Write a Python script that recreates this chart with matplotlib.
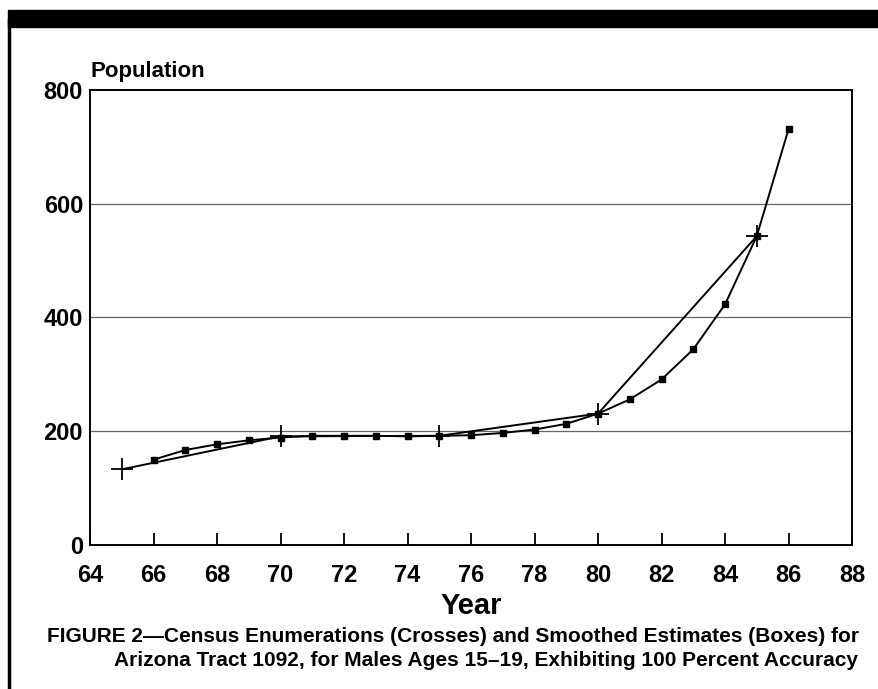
import matplotlib
matplotlib.use("Agg")
import matplotlib.pyplot as plt
from matplotlib.patches import Rectangle
from matplotlib.lines import Line2D

# Census enumerations (crosses)
census_years = [65, 70, 75, 80, 85]
census_pop = [133, 191, 192, 231, 543]

# Smoothed estimates (boxes)
est_years = [66, 67, 68, 69, 70, 71, 72, 73, 74, 75, 76, 77, 78, 79, 80,
             81, 82, 83, 84, 85, 86]
est_pop = [150, 167, 177, 184, 189, 192, 192, 192, 191, 192, 193, 197, 203,
           213, 231, 256, 291, 344, 423, 543, 731]

x_ticks = list(range(64, 89, 2))
y_ticks = [0, 200, 400, 600, 800]

plt.rcParams["font.family"] = ["Liberation Sans", "DejaVu Sans"]

fig = plt.figure(figsize=(8.79, 6.89), dpi=100)
ax = fig.add_axes([0.1024, 0.2090, 0.8669, 0.6604])

ax.plot(census_years, census_pop, color="black", lw=1.4, marker="+",
        ms=16, mew=1.3, zorder=3)
ax.plot(est_years, est_pop, color="black", lw=1.4, marker="s",
        ms=4.5, zorder=4)

ax.set_xlim(64, 88)
ax.set_ylim(0, 800)
ax.set_xticks(x_ticks)
ax.set_yticks(y_ticks)
ax.set_xticklabels([str(t) for t in x_ticks], fontsize=17, fontweight="bold")
ax.set_yticklabels([str(t) for t in y_ticks], fontsize=17, fontweight="bold")
ax.tick_params(axis="x", direction="in", length=9, width=1.3, pad=14)
ax.tick_params(axis="y", direction="in", length=0, pad=5)
for y in y_ticks[1:-1]:
    ax.axhline(y, color="#666666", lw=0.9, zorder=1)
for s in ax.spines.values():
    s.set_linewidth(1.4)

ax.set_xlabel("Year", fontsize=21, fontweight="bold", labelpad=3)
fig.text(0.1024, 1 - 82 / 689, "Population", fontsize=16, fontweight="bold",
         ha="left", va="bottom")

# frame decorations: black bar on top and left rule
fig.patches.append(Rectangle((8 / 879, 1 - 27 / 689), 1 - 8 / 879, 17 / 689,
                             transform=fig.transFigure, color="black"))
fig.lines.append(Line2D([9 / 879, 9 / 879], [0, 1 - 20 / 689],
                        transform=fig.transFigure, color="black", lw=2.5))

fig.text(47 / 879, 1 - 636 / 689,
         "FIGURE 2\u2014Census Enumerations (Crosses) and Smoothed Estimates (Boxes) for",
         fontsize=15, fontweight="bold", ha="left", va="center")
fig.text(858 / 879, 1 - 660 / 689,
         "Arizona Tract 1092, for Males Ages 15\u201319, Exhibiting 100 Percent Accuracy",
         fontsize=15, fontweight="bold", ha="right", va="center")

fig.savefig("out.png", dpi=100)
